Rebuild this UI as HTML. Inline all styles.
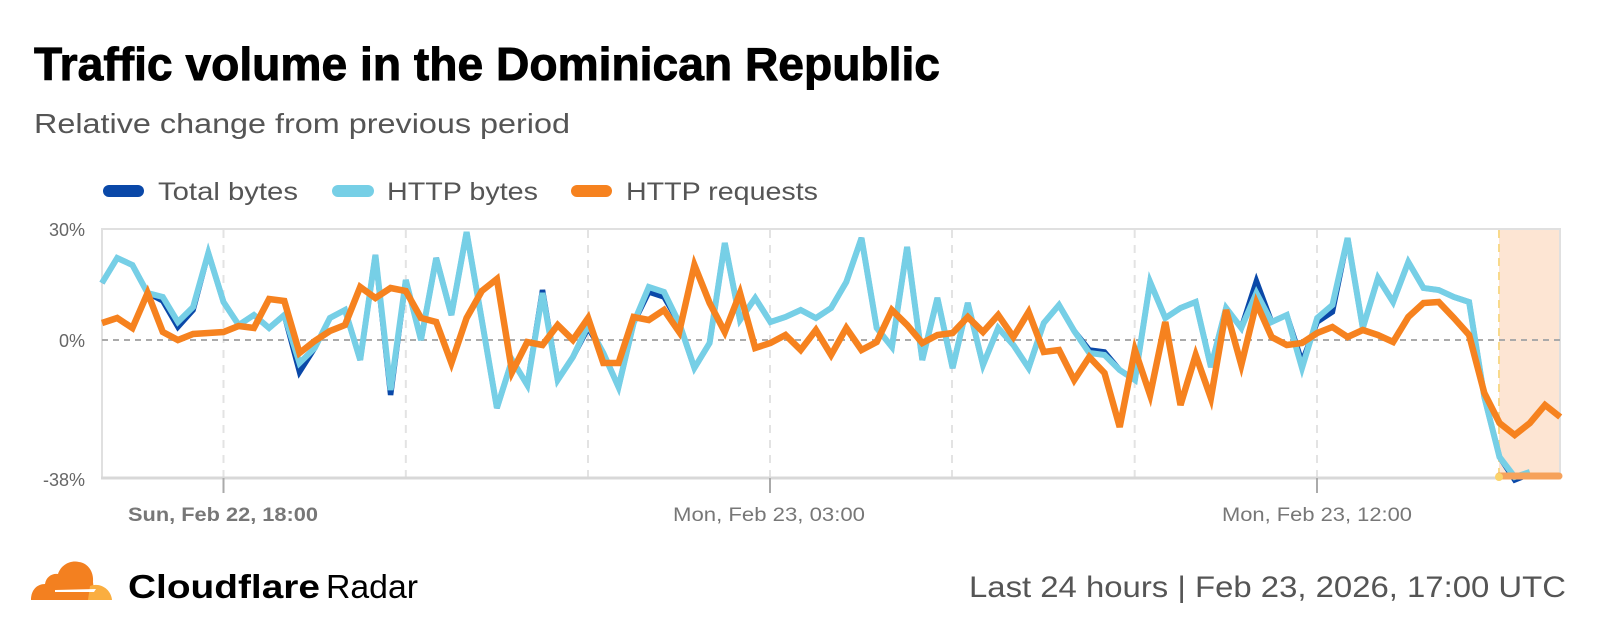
<!DOCTYPE html>
<html><head><meta charset="utf-8"><style>
html,body{margin:0;padding:0;background:#fff;}
svg{display:block;font-family:"Liberation Sans",Arial,sans-serif;}
</style></head><body>
<svg width="1600" height="636" viewBox="0 0 1600 636" xmlns="http://www.w3.org/2000/svg">
<rect width="1600" height="636" fill="#fff"/>
<text x="34" y="80" font-size="46" font-weight="bold" fill="#000" stroke="#000" stroke-width="0.9" textLength="906" lengthAdjust="spacingAndGlyphs">Traffic volume in the Dominican Republic</text>
<text x="34" y="133" font-size="28" fill="#555" textLength="536" lengthAdjust="spacingAndGlyphs">Relative change from previous period</text>
<!-- legend -->
<rect x="103" y="185" width="41" height="12" rx="6" fill="#0a48a8"/>
<text x="158" y="200" font-size="25" fill="#555" textLength="140" lengthAdjust="spacingAndGlyphs">Total bytes</text>
<rect x="332" y="185" width="42" height="12" rx="6" fill="#76cfe6"/>
<text x="387" y="200" font-size="25" fill="#555" textLength="151" lengthAdjust="spacingAndGlyphs">HTTP bytes</text>
<rect x="571" y="185" width="41" height="12" rx="6" fill="#f6821f"/>
<text x="626" y="200" font-size="25" fill="#555" textLength="192" lengthAdjust="spacingAndGlyphs">HTTP requests</text>
<!-- plot frame -->
<rect x="1499" y="229" width="61" height="249" fill="#fde5d3"/>
<rect x="102" y="229" width="1458" height="249" fill="none" stroke="#e0e0e0" stroke-width="2"/>
<g stroke="#e3e3e3" stroke-width="2" stroke-dasharray="8,7">
<line x1="223.5" y1="230" x2="223.5" y2="477"/>
<line x1="405.8" y1="230" x2="405.8" y2="477"/>
<line x1="588" y1="230" x2="588" y2="477"/>
<line x1="770" y1="230" x2="770" y2="477"/>
<line x1="952" y1="230" x2="952" y2="477"/>
<line x1="1134.7" y1="230" x2="1134.7" y2="477"/>
<line x1="1317" y1="230" x2="1317" y2="477"/>
</g>
<line x1="102" y1="340" x2="1560" y2="340" stroke="#aaa" stroke-width="2" stroke-dasharray="6,5"/>
<line x1="1499" y1="230" x2="1499" y2="477" stroke="#f8d98c" stroke-width="2" stroke-dasharray="8,6"/>
<line x1="101" y1="478" x2="1561" y2="478" stroke="#d8d8d8" stroke-width="3"/>
<g stroke="#aaa" stroke-width="2">
<line x1="223.5" y1="478" x2="223.5" y2="493"/>
<line x1="770" y1="478" x2="770" y2="493"/>
<line x1="1317" y1="478" x2="1317" y2="493"/>
</g>
<g id="series" fill="none" stroke-linejoin="miter" stroke-linecap="butt"></g>
<line x1="1499" y1="476" x2="1559" y2="476" stroke="#f6a25b" stroke-width="7" stroke-linecap="round"/>
<circle cx="1499" cy="477" r="4" fill="#fbd36a"/>
<!-- y labels -->
<g font-size="18" fill="#666" text-anchor="end">
<text x="85" y="236">30%</text>
<text x="85" y="347">0%</text>
<text x="85" y="486">-38%</text>
</g>
<g font-size="19" fill="#777" text-anchor="middle">
<text x="223" y="521" font-weight="bold" textLength="190" lengthAdjust="spacingAndGlyphs">Sun, Feb 22, 18:00</text>
<text x="769" y="521" textLength="192" lengthAdjust="spacingAndGlyphs">Mon, Feb 23, 03:00</text>
<text x="1317" y="521" textLength="190" lengthAdjust="spacingAndGlyphs">Mon, Feb 23, 12:00</text>
</g>
<!-- logo -->
<g>
<path d="M31,600 C31,590 37,584 45,584 C46,577 52,573 58,574 C61,565 70,560 79,562 C88,563 94,572 93,582 L95,600 Z" fill="#f38020"/>
<path d="M90,586 C100,582 111,589 112,600 L88,600 Z" fill="#faae40"/>
<path d="M55,590 L96,589 L94,592 L55,592 Z" fill="#fff"/>
</g>
<text x="128" y="598" font-size="33" font-weight="bold" fill="#000" textLength="192" lengthAdjust="spacingAndGlyphs">Cloudflare</text>
<text x="326" y="598" font-size="33" fill="#000" textLength="92" lengthAdjust="spacingAndGlyphs">Radar</text>
<text x="1566" y="597" font-size="30" fill="#555" text-anchor="end" textLength="597" lengthAdjust="spacingAndGlyphs">Last 24 hours  |  Feb 23, 2026, 17:00 UTC</text>
</svg>
<script>
(function(){
var light=[283,258,265,293,297,322,307,253,302,325,315,328,315,363,348,318,310,360,255,390,280,340,258,315,232,320,408,360,385,293,380,357,325,353,387,323,287,292,323,368,343,243,320,298,322,317,310,318,308,282,238,328,347,247,360,298,368,303,365,328,345,368,323,305,331,353,355,370,380,282,318,308,302,367,308,328,293,322,315,368,318,305,238,328,278,302,262,288,290,297,302,397,457,477,472];
var orange=[323,318,328,293,332,340,334,333,332,326,328,299,301,353,341,331,325,287,298,288,291,318,322,363,318,291,279,372,342,345,325,340,318,363,363,317,320,310,332,265,303,332,293,348,343,335,350,330,355,328,350,342,310,325,343,335,333,317,332,315,337,312,352,350,380,357,373,427,350,395,322,405,355,398,310,365,303,337,345,343,333,327,337,330,335,342,317,303,302,318,335,393,423,435,423,405,417];
var dark=light.slice();
var ov={4:301,5:327,6:310,13:372,19:395,29:290,32:328,36:292,37:297,65:350,66:352,76:281,79:362,80:322,81:312,93:480,94:474};
for(var k in ov)dark[k]=ov[k];
function pts(a){return a.map(function(y,i){return (102+i*15.19).toFixed(1)+','+y}).join(' ');}
var g=document.getElementById('series');var ns='http://www.w3.org/2000/svg';
function pl(a,c,w){var p=document.createElementNS(ns,'polyline');p.setAttribute('points',pts(a));p.setAttribute('stroke',c);p.setAttribute('stroke-width',w);g.appendChild(p);}
pl(dark,'#0a48a8',5.5);pl(light,'#76cfe6',6);pl(orange,'#f6821f',6.5);
})();
</script>
</body></html>
